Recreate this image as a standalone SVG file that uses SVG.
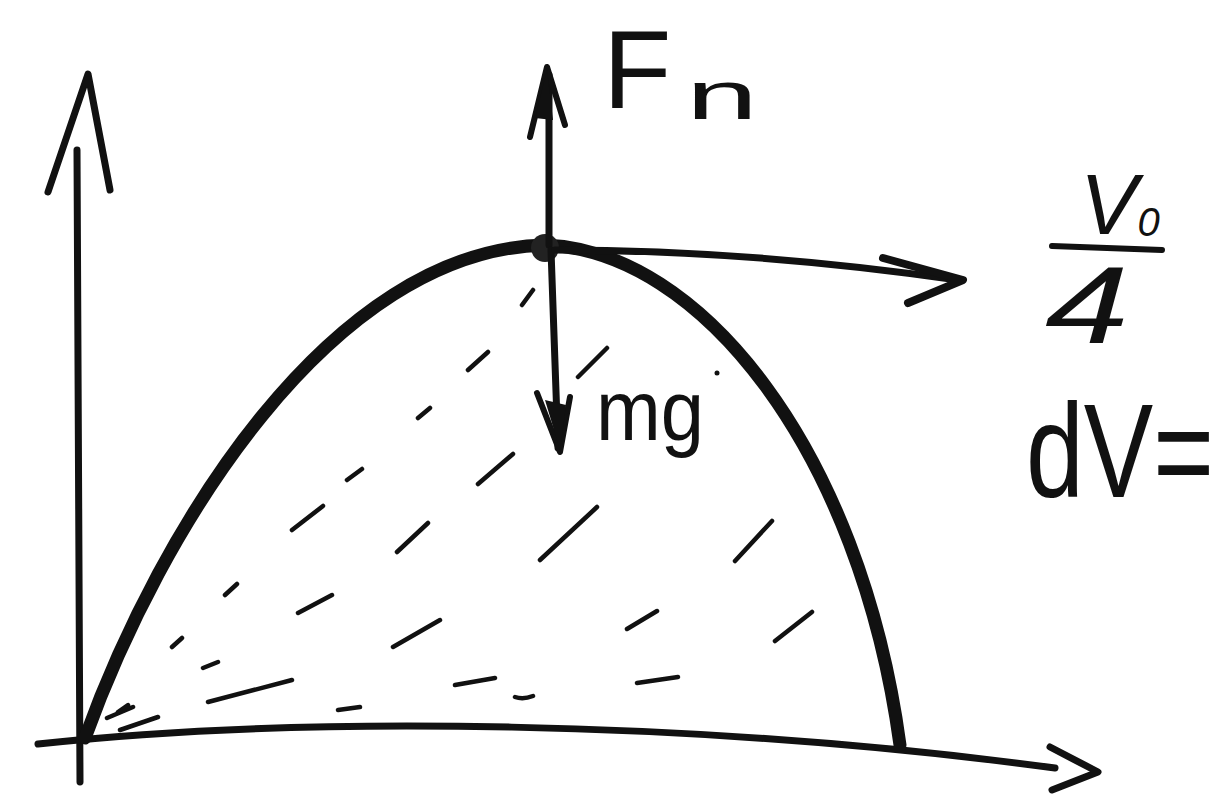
<svg xmlns="http://www.w3.org/2000/svg" width="1225" height="807" viewBox="0 0 1225 807">
<style>
.ink{fill:none;stroke:#111;stroke-linecap:round;stroke-linejoin:round}
.ax{stroke-width:7}
.thick{stroke-width:13}
.hd{stroke-width:7}
.dash{fill:none;stroke:#111;stroke-width:4.5;stroke-linecap:round}
.lbl{font-family:"Liberation Sans",Arial,sans-serif;fill:#111}
</style>
<rect width="1225" height="807" fill="#fff"/>
<g id="axes">
<path class="ink ax" d="M77 150 L80 782"/>
<path class="ink ax" d="M48 192 L88 74 L110 190"/>
<path class="ink ax" d="M38 744 C300 715 700 720 1055 768"/>
<path class="ink ax" d="M1050 747 L1098 772 L1052 790"/>
</g>
<g id="hatching">
<path class="dash" d="M522 305 L533 290 M468 370 L488 352 M418 418 L430 408 M578 377 L607 348 M347 480 L362 469 M478 484 L513 454 M292 530 L323 506 M397 552 L428 523 M540 560 L597 507 M735 561 L772 521 M225 595 L237 584 M298 613 L332 595 M393 647 L440 620 M627 629 L657 611 M775 641 L812 612 M172 647 L182 638 M203 668 L218 662 M208 702 L292 680 M338 710 L360 707 M455 685 L495 678 M515 697 Q523 700 533 696 M637 683 L678 677 M107 718 L133 707 M118 712 L128 705 M120 730 L158 717"/>
<circle cx="717" cy="373" r="2.5" fill="#111"/>
</g>
<g id="curve">
<path class="ink thick" d="M85 738 C160 530 330 250 545 245"/>
<path class="ink thick" d="M545 245 C700 250 860 450 900 745"/>
<circle id="mass" cx="545" cy="248" r="14" fill="#222"/>
</g>
<g id="connectors">
<path class="ink hd" d="M549 245 L549 75"/>
<path class="ink" stroke-width="6" d="M530 137 L547 67 L565 125"/>
<path fill="#111" d="M535 118 L547 70 L553 120 Z"/>
<path class="ink hd" d="M551 250 L558 448"/>
<path class="ink" stroke-width="6" d="M537 393 L560 452 L570 397"/>
<path fill="#111" d="M545 400 L560 450 L566 405 Z"/>
<path class="ink hd" d="M555 250 Q750 250 958 280"/>
<path class="ink" stroke-width="8" d="M883 258 L963 280 L908 303"/>
</g>
<g id="labels">
<text class="lbl" x="603" y="108" font-size="112">F</text>
<text class="lbl" x="686" y="119" font-size="68" textLength="72" lengthAdjust="spacingAndGlyphs">n</text>
<text class="lbl" x="596" y="440" font-size="86" textLength="108" lengthAdjust="spacingAndGlyphs">mg</text>
<text class="lbl" x="1080" y="234" font-size="86" font-style="italic">V<tspan font-size="40" dy="2">0</tspan></text>
<path class="ink" stroke-width="6" d="M1052 246 L1162 250"/>
<text class="lbl" x="1045" y="343" font-size="110" font-style="italic" textLength="84" lengthAdjust="spacingAndGlyphs">4</text>
<text class="lbl" transform="translate(1026 497) scale(1 1.28)" x="0" y="0" font-size="104">dV=</text>
</g>
</svg>
